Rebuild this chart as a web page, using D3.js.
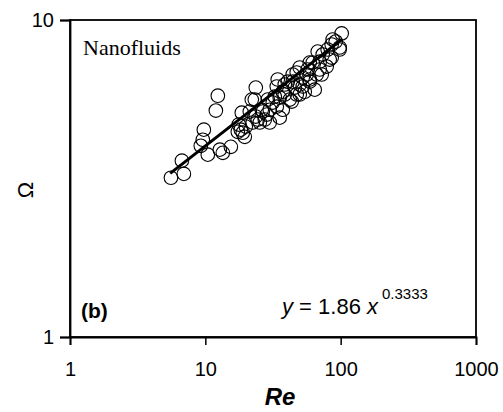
<!DOCTYPE html>
<html><head><meta charset="utf-8">
<script src="https://cdn.jsdelivr.net/npm/d3@7"></script>
<style>body{margin:0;background:#fff}</style>
</head><body>
<svg id="c" width="503" height="412"></svg>
<script>
const reValues = [5.57,6.94,6.71,9.26,9.58,9.75,10.43,11.96,12.37,12.80,13.47,15.43,17.67,18.28,18.91,19.56,17.38,18.59,22.04,23.59,23.19,21.30,23.59,24.41,22.41,25.25,27.49,26.57,29.92,26.12,28.44,29.92,33.71,32.59,31.49,35.46,33.71,35.46,37.33,37.33,34.28,38.62,40.64,42.04,43.49,44.23,44.23,47.34,47.34,49.82,49.82,49.82,52.44,52.44,54.24,56.12,57.08,59.06,59.06,59.06,62.14,64.29,66.52,67.66,69.98,69.98,72.41,73.65,78.82,80.17,82.95,85.82,85.82,87.30,98.3,98.3,101.7,91.9,19.90,28.92,38.62,45.76];
const omegaValues = [3.18,3.27,3.60,4.01,4.19,4.51,3.76,5.18,5.77,3.90,3.81,3.98,4.68,4.51,4.41,4.28,4.44,5.10,5.61,6.12,5.61,5.14,4.96,4.85,4.75,4.75,4.85,5.14,5.21,5.21,5.03,4.75,5.33,5.73,5.49,5.69,6.17,4.92,5.21,5.94,6.49,6.26,6.39,5.61,5.53,6.39,6.73,6.83,5.82,5.82,6.26,7.08,6.17,6.58,5.94,6.73,6.98,7.34,6.49,6.39,7.34,6.03,6.73,7.95,7.39,6.98,6.73,7.78,7.13,8.07,7.50,7.61,8.37,8.68,8.19,8.07,9.07,8.55,4.61,5.61,5.82,6.12];
const fitCoef = 1.86, fitExp = 0.3333;
const fitRange = [5.5, 102];
const xTicks = [1, 10, 100, 1000];
const yTicks = [1, 10];

const svg = d3.select("#c");
const L = 70, R = 476, T = 20, B = 337;
const x = d3.scaleLog().domain([1, 1000]).range([L, R]);
const y = d3.scaleLog().domain([1, 10]).range([B, T]);
const SANS = "Liberation Sans, Arial, sans-serif";

svg.append("rect").attr("x", L).attr("y", T).attr("width", R - L).attr("height", B - T)
  .attr("fill", "none").attr("stroke", "#000").attr("stroke-width", 1.8);

const xa = svg.append("g").attr("transform", `translate(0,${B})`)
  .call(d3.axisBottom(x).tickValues(xTicks).tickFormat(d3.format("d")).tickSize(8).tickPadding(17));
const ya = svg.append("g").attr("transform", `translate(${L},0)`)
  .call(d3.axisLeft(y).tickValues(yTicks).tickFormat(d3.format("d")).tickSize(10).tickPadding(6));
[xa, ya].forEach(g => {
  g.select(".domain").attr("stroke-width", 1.8);
  g.selectAll(".tick line").attr("stroke-width", 1.5);
  g.selectAll("text").attr("font-family", SANS).attr("font-size", 20).attr("fill", "#000");
});

svg.append("g").selectAll("circle").data(reValues.map((r, i) => [r, omegaValues[i]])).join("circle")
  .attr("cx", d => x(d[0])).attr("cy", d => y(d[1])).attr("r", 6.8)
  .attr("fill", "none").attr("stroke", "#000").attr("stroke-width", 1.1);

const fitPts = fitRange.map(v => [v, fitCoef * Math.pow(v, fitExp)]);
svg.append("path").attr("d", d3.line().x(d => x(d[0])).y(d => y(d[1]))(fitPts))
  .attr("stroke", "#000").attr("stroke-width", 3).attr("fill", "none");

svg.append("text").attr("x", 83).attr("y", 55).text("Nanofluids")
  .attr("font-family", "Liberation Serif, Times New Roman, serif").attr("font-size", 22);
svg.append("text").attr("x", 81).attr("y", 318).text("(b)")
  .attr("font-family", SANS).attr("font-size", 21).attr("font-weight", "bold");
const eq = svg.append("text").attr("x", 282).attr("y", 314).attr("font-family", SANS).attr("font-size", 22);
eq.append("tspan").attr("font-style", "italic").text("y");
eq.append("tspan").text(" = 1.86 ");
eq.append("tspan").attr("font-style", "italic").text("x");
svg.append("text").attr("x", 382).attr("y", 299).text("0.3333").attr("font-family", SANS).attr("font-size", 15);

svg.append("text").attr("x", 280).attr("y", 405).attr("text-anchor", "middle").text("Re")
  .attr("font-family", SANS).attr("font-size", 24).attr("font-weight", "bold").attr("font-style", "italic");
svg.append("text").attr("transform", "translate(33,190) rotate(-90)").attr("text-anchor", "middle").text("Ω")
  .attr("font-family", SANS).attr("font-size", 22);
</script>
</body></html>
